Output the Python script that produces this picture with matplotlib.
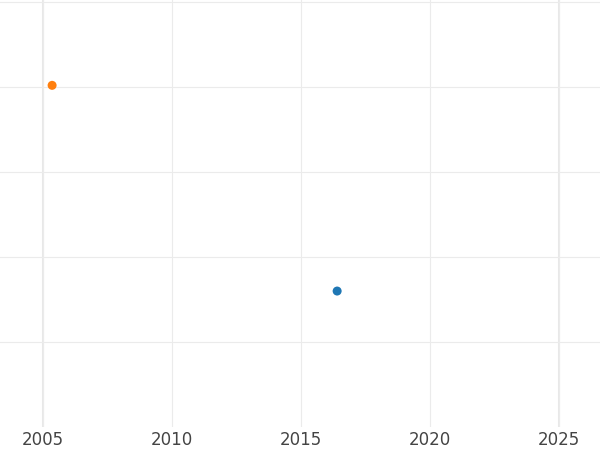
import matplotlib
matplotlib.use("Agg")
import matplotlib.pyplot as plt

# Data
years = [2016.4, 2005.35]
values = [1.6, 4.02]
colors = ["#1f77b4", "#ff7f0e"]
xticks = [2005, 2010, 2015, 2020, 2025]
yticks = [1, 2, 3, 4, 5]

fig = plt.figure(figsize=(6, 4.5), dpi=100)
ax = fig.add_axes([0, 0.051, 1, 0.949])

ax.scatter(years, values, c=colors, s=42, zorder=3, linewidths=0)

ax.set_xlim(2003.33, 2026.59)
ax.set_ylim(0, 5.024)
ax.set_xticks(xticks)
ax.set_yticks(yticks)
ax.set_yticklabels([])
ax.grid(True, color="#ebebeb", linewidth=0.8)
for x in [xticks[0], xticks[-1]]:
    ax.axvline(x, color="#e8e8e8", linewidth=1.5, zorder=1)

ax.tick_params(axis="both", length=0, labelsize=12, labelcolor="#444444")
ax.tick_params(axis="x", pad=3)
for s in ax.spines.values():
    s.set_visible(False)

fig.savefig("out.png", dpi=100)
